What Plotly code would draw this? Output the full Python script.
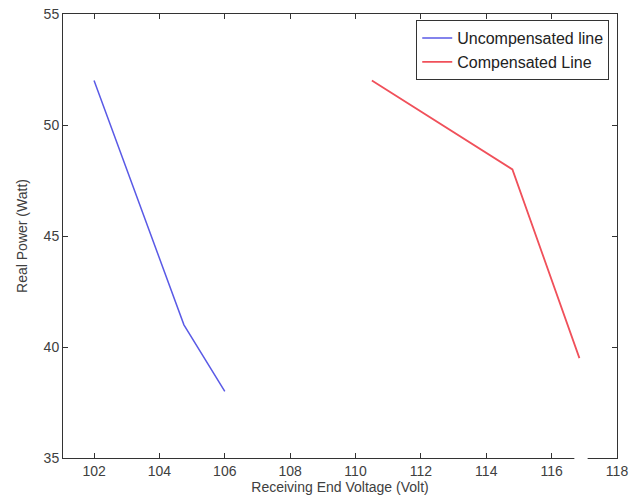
import plotly.graph_objects as go

# Data
uncomp_v = [102.0, 104.75, 106.0]
uncomp_p = [52.0, 41.0, 38.0]
comp_v = [110.5, 114.8, 116.85]
comp_p = [52.0, 48.0, 39.5]

x_ticks = [102, 104, 106, 108, 110, 112, 114, 116, 118]
y_ticks = [35, 40, 45, 50, 55]

font_family = "Liberation Sans, Arial, sans-serif"
text_color = "#404040"

fig = go.Figure()
fig.add_trace(go.Scatter(x=uncomp_v, y=uncomp_p, mode="lines",
                         name="Uncompensated line",
                         line=dict(color="#5a5ae6", width=1.5)))
fig.add_trace(go.Scatter(x=comp_v, y=comp_p, mode="lines",
                         name="Compensated Line",
                         line=dict(color="#f0505a", width=1.8)))

axis_common = dict(
    showgrid=False, zeroline=False, showline=True, linecolor="#333333",
    linewidth=1, mirror="ticks", ticks="inside", ticklen=5, automargin=False,
    tickcolor="#333333", tickfont=dict(size=14, color=text_color, family=font_family),
)

fig.update_layout(
    width=630, height=503,
    margin=dict(l=63, r=13, t=14, b=45, autoexpand=False),
    paper_bgcolor="white", plot_bgcolor="white",
    font=dict(family=font_family, color=text_color, size=14),
    xaxis=dict(range=[101.05, 118], tickvals=x_ticks,
               title=dict(text="Receiving End Voltage (Volt)", standoff=4,
                          font=dict(size=14, color=text_color)),
               **axis_common),
    yaxis=dict(range=[35, 55], tickvals=y_ticks,
               title=dict(text="Real Power (Watt)", standoff=12,
                          font=dict(size=14, color=text_color)),
               **axis_common),
    legend=dict(x=0.986, y=0.986, xanchor="right", yanchor="top",
                bgcolor="white", bordercolor="#333333", borderwidth=1,
                font=dict(size=16, color="#222222", family=font_family),
                tracegroupgap=0),
    showlegend=True,
    shapes=[dict(type="rect", xref="paper", yref="paper",
                 x0=0.923, x1=0.947, y0=-0.006, y1=0.006,
                 fillcolor="white", line=dict(width=0), layer="above")],
)

fig.write_html("out.html")
